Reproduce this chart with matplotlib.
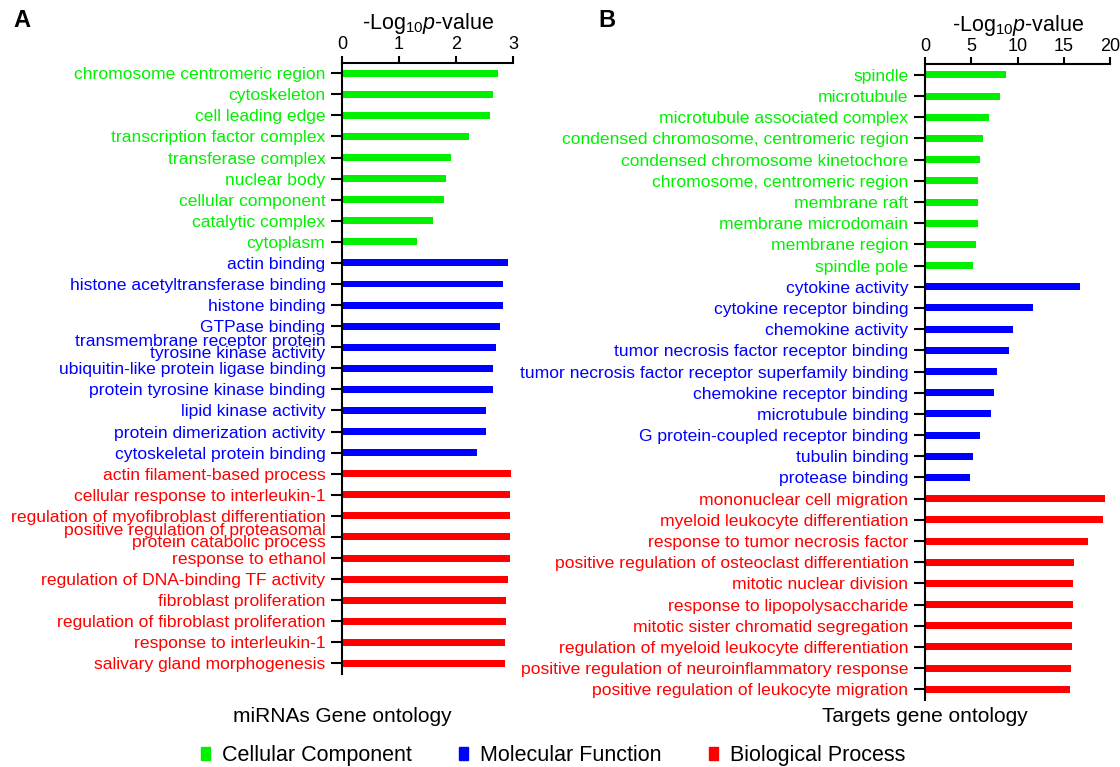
import numpy as np
import matplotlib.pyplot as plt
from matplotlib.patches import Patch

plt.rcParams['font.family'] = ['Liberation Sans', 'DejaVu Sans']
plt.rcParams['mathtext.fontset'] = 'custom'
plt.rcParams['mathtext.rm'] = 'Liberation Sans'
plt.rcParams['mathtext.it'] = 'Liberation Sans:italic'

GREEN, BLUE, RED = '#00f000', '#0000ff', '#ff0000'

# panel A: miRNAs gene ontology
a_cc_terms = ['chromosome centromeric region', 'cytoskeleton', 'cell leading edge',
              'transcription factor complex', 'transferase complex', 'nuclear body',
              'cellular component', 'catalytic complex', 'cytoplasm']
a_cc_vals = [2.74, 2.64, 2.60, 2.23, 1.91, 1.82, 1.79, 1.59, 1.32]
a_mf_terms = ['actin binding', 'histone acetyltransferase binding', 'histone binding',
              'GTPase binding', 'transmembrane receptor protein\ntyrosine kinase activity',
              'ubiquitin-like protein ligase binding', 'protein tyrosine kinase binding',
              'lipid kinase activity', 'protein dimerization activity',
              'cytoskeletal protein binding']
a_mf_vals = [2.91, 2.83, 2.83, 2.77, 2.70, 2.65, 2.64, 2.53, 2.53, 2.36]
a_bp_terms = ['actin filament-based process', 'cellular response to interleukin-1',
              'regulation of myofibroblast differentiation',
              'positive regulation of proteasomal\nprotein catabolic process',
              'response to ethanol', 'regulation of DNA-binding TF activity',
              'fibroblast proliferation', 'regulation of fibroblast proliferation',
              'response to interleukin-1', 'salivary gland morphogenesis']
a_bp_vals = [2.97, 2.95, 2.95, 2.95, 2.95, 2.91, 2.88, 2.88, 2.86, 2.86]

# panel B: targets gene ontology
b_cc_terms = ['spindle', 'microtubule', 'microtubule associated complex',
              'condensed chromosome, centromeric region', 'condensed chromosome kinetochore',
              'chromosome, centromeric region', 'membrane raft', 'membrane microdomain',
              'membrane region', 'spindle pole']
b_cc_vals = [8.74, 8.09, 6.87, 6.29, 5.90, 5.76, 5.76, 5.72, 5.47, 5.14]
b_mf_terms = ['cytokine activity', 'cytokine receptor binding', 'chemokine activity',
              'tumor necrosis factor receptor binding',
              'tumor necrosis factor receptor superfamily binding',
              'chemokine receptor binding', 'microtubule binding',
              'G protein-coupled receptor binding', 'tubulin binding', 'protease binding']
b_mf_vals = [16.69, 11.69, 9.46, 9.10, 7.81, 7.45, 7.12, 5.94, 5.22, 4.89]
b_bp_terms = ['mononuclear cell migration', 'myeloid leukocyte differentiation',
              'response to tumor necrosis factor',
              'positive regulation of osteoclast differentiation',
              'mitotic nuclear division', 'response to lipopolysaccharide',
              'mitotic sister chromatid segregation',
              'regulation of myeloid leukocyte differentiation',
              'positive regulation of neuroinflammatory response',
              'positive regulation of leukocyte migration']
b_bp_vals = [19.42, 19.21, 17.55, 16.12, 16.01, 15.94, 15.90, 15.86, 15.79, 15.65]


def go_panel(ax, groups, xmax, xstep):
    terms, vals, cols = [], [], []
    for t, v, c in groups:
        terms += t
        vals += v
        cols += [c] * len(t)
    y = np.arange(len(terms))
    ax.barh(y, vals, height=0.33, color=cols)
    ax.set_ylim(len(terms) - 0.5, -0.5)
    ax.set_xlim(0, xmax)
    ax.xaxis.tick_top()
    ax.xaxis.set_label_position('top')
    ax.set_xticks(np.arange(0, xmax + 0.01, xstep))
    ax.set_yticks(y)
    ax.set_yticklabels(terms, fontsize=12.6, linespacing=0.75)
    for lab, c in zip(ax.get_yticklabels(), cols):
        lab.set_color(c)
    ax.set_xlabel(r'-Log$_{10}$$\it{p}$-value', fontsize=15.5, labelpad=5)
    ax.tick_params(axis='x', labelsize=13, width=1.5, length=5, pad=2)
    ax.tick_params(axis='y', width=1.5, length=8, pad=4)
    for s in ['right', 'bottom']:
        ax.spines[s].set_visible(False)
    for s in ['left', 'top']:
        ax.spines[s].set_linewidth(1.5)


fig = plt.figure(figsize=(11.2, 7.67), dpi=100)
ax1 = fig.add_axes([0.3054, 0.1213, 0.1527, 0.797])
ax2 = fig.add_axes([0.8259, 0.0874, 0.1654, 0.8288])

go_panel(ax1, [(a_cc_terms, a_cc_vals, GREEN), (a_mf_terms, a_mf_vals, BLUE),
               (a_bp_terms, a_bp_vals, RED)], 3, 1)
go_panel(ax2, [(b_cc_terms, b_cc_vals, GREEN), (b_mf_terms, b_mf_vals, BLUE),
               (b_bp_terms, b_bp_vals, RED)], 20, 5)

fig.text(0.012, 0.973, 'A', fontsize=17, fontweight='bold', va='center')
fig.text(0.534, 0.973, 'B', fontsize=17, fontweight='bold', va='center')
fig.text(0.3054, 0.066, 'miRNAs Gene ontology', fontsize=15, ha='center', va='center')
fig.text(0.8259, 0.066, 'Targets gene ontology', fontsize=15, ha='center', va='center')

handles = [Patch(color=GREEN, label='Cellular Component'),
           Patch(color=BLUE, label='Molecular Function'),
           Patch(color=RED, label='Biological Process')]
fig.legend(handles=handles, loc='center', bbox_to_anchor=(0.494, 0.015), ncol=3,
           frameon=False, fontsize=15.5, handlelength=0.42, handleheight=0.55,
           handletextpad=0.55, columnspacing=2.2, borderpad=0)

fig.savefig('out.png', dpi=100)
